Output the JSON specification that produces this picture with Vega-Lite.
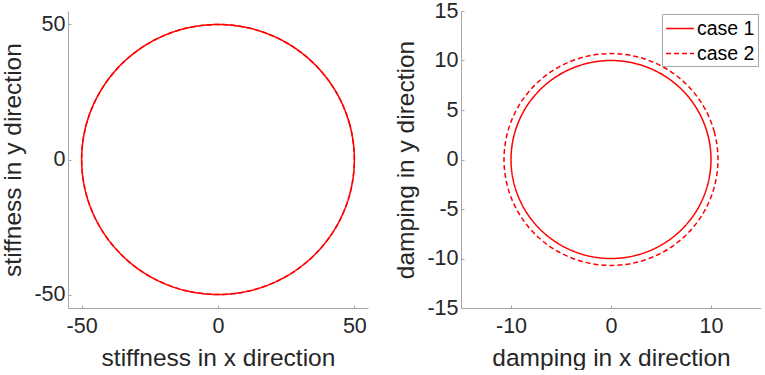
{
  "$schema": "https://vega.github.io/schema/vega-lite/v6.json",
  "background": "white",
  "padding": {"left": 0, "top": 0, "right": 0, "bottom": 0},
  "config": {
    "font": "Liberation Sans",
    "view": {"stroke": null},
    "axis": {
      "grid": false,
      "domainColor": "#a6a6a6",
      "domainWidth": 1,
      "tickColor": "#a6a6a6",
      "tickSize": -3,
      "labelFont": "Liberation Sans",
      "labelFontSize": 21.5,
      "labelColor": "#262626",
      "labelExpr": "datum.value < 0 ? '-' + abs(datum.value) : '' + datum.value",
      "titleFont": "Liberation Sans",
      "titleFontSize": 24.5,
      "titleFontWeight": "normal",
      "titleColor": "#262626"
    },
    "axisX": {"labelPadding": 10.5, "titlePadding": 9.5},
    "axisY": {"labelPadding": 6, "titlePadding": 8},
    "legend": {
      "labelFont": "Liberation Sans",
      "labelFontSize": 19.5,
      "labelColor": "#000000"
    }
  },
  "datasets": {
    "stiff": [
      {"case": "case 1", "i": 0, "x": 50, "y": 0},
      {"case": "case 1", "i": 1, "x": 48.296, "y": 12.941},
      {"case": "case 1", "i": 2, "x": 43.301, "y": 25},
      {"case": "case 1", "i": 3, "x": 35.355, "y": 35.355},
      {"case": "case 1", "i": 4, "x": 25, "y": 43.301},
      {"case": "case 1", "i": 5, "x": 12.941, "y": 48.296},
      {"case": "case 1", "i": 6, "x": 0, "y": 50},
      {"case": "case 1", "i": 7, "x": -12.941, "y": 48.296},
      {"case": "case 1", "i": 8, "x": -25, "y": 43.301},
      {"case": "case 1", "i": 9, "x": -35.355, "y": 35.355},
      {"case": "case 1", "i": 10, "x": -43.301, "y": 25},
      {"case": "case 1", "i": 11, "x": -48.296, "y": 12.941},
      {"case": "case 1", "i": 12, "x": -50, "y": 0},
      {"case": "case 1", "i": 13, "x": -48.296, "y": -12.941},
      {"case": "case 1", "i": 14, "x": -43.301, "y": -25},
      {"case": "case 1", "i": 15, "x": -35.355, "y": -35.355},
      {"case": "case 1", "i": 16, "x": -25, "y": -43.301},
      {"case": "case 1", "i": 17, "x": -12.941, "y": -48.296},
      {"case": "case 1", "i": 18, "x": 0, "y": -50},
      {"case": "case 1", "i": 19, "x": 12.941, "y": -48.296},
      {"case": "case 1", "i": 20, "x": 25, "y": -43.301},
      {"case": "case 1", "i": 21, "x": 35.355, "y": -35.355},
      {"case": "case 1", "i": 22, "x": 43.301, "y": -25},
      {"case": "case 1", "i": 23, "x": 48.296, "y": -12.941},
      {"case": "case 2", "i": 0, "x": 50, "y": 0},
      {"case": "case 2", "i": 1, "x": 48.296, "y": 12.941},
      {"case": "case 2", "i": 2, "x": 43.301, "y": 25},
      {"case": "case 2", "i": 3, "x": 35.355, "y": 35.355},
      {"case": "case 2", "i": 4, "x": 25, "y": 43.301},
      {"case": "case 2", "i": 5, "x": 12.941, "y": 48.296},
      {"case": "case 2", "i": 6, "x": 0, "y": 50},
      {"case": "case 2", "i": 7, "x": -12.941, "y": 48.296},
      {"case": "case 2", "i": 8, "x": -25, "y": 43.301},
      {"case": "case 2", "i": 9, "x": -35.355, "y": 35.355},
      {"case": "case 2", "i": 10, "x": -43.301, "y": 25},
      {"case": "case 2", "i": 11, "x": -48.296, "y": 12.941},
      {"case": "case 2", "i": 12, "x": -50, "y": 0},
      {"case": "case 2", "i": 13, "x": -48.296, "y": -12.941},
      {"case": "case 2", "i": 14, "x": -43.301, "y": -25},
      {"case": "case 2", "i": 15, "x": -35.355, "y": -35.355},
      {"case": "case 2", "i": 16, "x": -25, "y": -43.301},
      {"case": "case 2", "i": 17, "x": -12.941, "y": -48.296},
      {"case": "case 2", "i": 18, "x": 0, "y": -50},
      {"case": "case 2", "i": 19, "x": 12.941, "y": -48.296},
      {"case": "case 2", "i": 20, "x": 25, "y": -43.301},
      {"case": "case 2", "i": 21, "x": 35.355, "y": -35.355},
      {"case": "case 2", "i": 22, "x": 43.301, "y": -25},
      {"case": "case 2", "i": 23, "x": 48.296, "y": -12.941}
    ],
    "damp": [
      {"case": "case 1", "i": 0, "x": 10, "y": 0},
      {"case": "case 1", "i": 1, "x": 9.659, "y": 2.588},
      {"case": "case 1", "i": 2, "x": 8.66, "y": 5},
      {"case": "case 1", "i": 3, "x": 7.071, "y": 7.071},
      {"case": "case 1", "i": 4, "x": 5, "y": 8.66},
      {"case": "case 1", "i": 5, "x": 2.588, "y": 9.659},
      {"case": "case 1", "i": 6, "x": 0, "y": 10},
      {"case": "case 1", "i": 7, "x": -2.588, "y": 9.659},
      {"case": "case 1", "i": 8, "x": -5, "y": 8.66},
      {"case": "case 1", "i": 9, "x": -7.071, "y": 7.071},
      {"case": "case 1", "i": 10, "x": -8.66, "y": 5},
      {"case": "case 1", "i": 11, "x": -9.659, "y": 2.588},
      {"case": "case 1", "i": 12, "x": -10, "y": 0},
      {"case": "case 1", "i": 13, "x": -9.659, "y": -2.588},
      {"case": "case 1", "i": 14, "x": -8.66, "y": -5},
      {"case": "case 1", "i": 15, "x": -7.071, "y": -7.071},
      {"case": "case 1", "i": 16, "x": -5, "y": -8.66},
      {"case": "case 1", "i": 17, "x": -2.588, "y": -9.659},
      {"case": "case 1", "i": 18, "x": 0, "y": -10},
      {"case": "case 1", "i": 19, "x": 2.588, "y": -9.659},
      {"case": "case 1", "i": 20, "x": 5, "y": -8.66},
      {"case": "case 1", "i": 21, "x": 7.071, "y": -7.071},
      {"case": "case 1", "i": 22, "x": 8.66, "y": -5},
      {"case": "case 1", "i": 23, "x": 9.659, "y": -2.588},
      {"case": "case 2", "i": 0, "x": 10.7, "y": 0},
      {"case": "case 2", "i": 1, "x": 10.335, "y": 2.769},
      {"case": "case 2", "i": 2, "x": 9.267, "y": 5.35},
      {"case": "case 2", "i": 3, "x": 7.566, "y": 7.566},
      {"case": "case 2", "i": 4, "x": 5.35, "y": 9.267},
      {"case": "case 2", "i": 5, "x": 2.769, "y": 10.335},
      {"case": "case 2", "i": 6, "x": 0, "y": 10.7},
      {"case": "case 2", "i": 7, "x": -2.769, "y": 10.335},
      {"case": "case 2", "i": 8, "x": -5.35, "y": 9.267},
      {"case": "case 2", "i": 9, "x": -7.566, "y": 7.566},
      {"case": "case 2", "i": 10, "x": -9.267, "y": 5.35},
      {"case": "case 2", "i": 11, "x": -10.335, "y": 2.769},
      {"case": "case 2", "i": 12, "x": -10.7, "y": 0},
      {"case": "case 2", "i": 13, "x": -10.335, "y": -2.769},
      {"case": "case 2", "i": 14, "x": -9.267, "y": -5.35},
      {"case": "case 2", "i": 15, "x": -7.566, "y": -7.566},
      {"case": "case 2", "i": 16, "x": -5.35, "y": -9.267},
      {"case": "case 2", "i": 17, "x": -2.769, "y": -10.335},
      {"case": "case 2", "i": 18, "x": 0, "y": -10.7},
      {"case": "case 2", "i": 19, "x": 2.769, "y": -10.335},
      {"case": "case 2", "i": 20, "x": 5.35, "y": -9.267},
      {"case": "case 2", "i": 21, "x": 7.566, "y": -7.566},
      {"case": "case 2", "i": 22, "x": 9.267, "y": -5.35},
      {"case": "case 2", "i": 23, "x": 10.335, "y": -2.769}
    ]
  },
  "spacing": 25,
  "hconcat": [
    {
      "width": 300,
      "height": 297,
      "data": {"name": "stiff"},
      "mark": {"type": "line", "interpolate": "cardinal-closed", "strokeWidth": 1.5},
      "encoding": {
        "x": {"field": "x", "type": "quantitative", "scale": {"domain": [-55, 55], "nice": false, "zero": false}, "axis": {"values": [-50, 0, 50], "title": "stiffness in x direction"}},
        "y": {"field": "y", "type": "quantitative", "scale": {"domain": [-55, 55], "nice": false, "zero": false}, "axis": {"values": [-50, 0, 50], "title": "stiffness in y direction"}},
        "order": {"field": "i", "type": "quantitative"},
        "color": {"field": "case", "type": "nominal", "scale": {"range": ["#ff0000", "#ff0000"]}, "legend": null},
        "strokeDash": {"field": "case", "type": "nominal", "scale": {"range": [[1, 0], [5, 3]]}, "legend": null}
      }
    },
    {
      "width": 300,
      "height": 297,
      "data": {"name": "damp"},
      "mark": {"type": "line", "interpolate": "cardinal-closed", "strokeWidth": 1.5},
      "encoding": {
        "x": {"field": "x", "type": "quantitative", "scale": {"domain": [-15, 15], "nice": false, "zero": false}, "axis": {"values": [-10, 0, 10], "title": "damping in x direction"}},
        "y": {"field": "y", "type": "quantitative", "scale": {"domain": [-15, 15], "nice": false, "zero": false}, "axis": {"values": [-15, -10, -5, 0, 5, 10, 15], "title": "damping in y direction"}},
        "order": {"field": "i", "type": "quantitative"},
        "color": {"field": "case", "type": "nominal", "scale": {"range": ["#ff0000", "#ff0000"]}, "legend": {"title": null, "orient": "top-right", "offset": 3, "padding": 3, "strokeColor": "#a6a6a6", "fillColor": "white", "symbolType": "M-1.333,0H1.333", "symbolSize": 441, "symbolStrokeWidth": 1.5, "symbolOffset": 3.5, "labelOffset": 5.5, "rowPadding": 4}},
        "strokeDash": {"field": "case", "type": "nominal", "scale": {"range": [[1, 0], [5, 3]]}, "legend": {"title": null, "orient": "top-right", "offset": 3, "padding": 3, "strokeColor": "#a6a6a6", "fillColor": "white", "symbolType": "M-1.333,0H1.333", "symbolSize": 441, "symbolStrokeWidth": 1.5, "symbolOffset": 3.5, "labelOffset": 5.5, "rowPadding": 4}}
      }
    }
  ],
  "resolve": {"legend": {"color": "independent", "strokeDash": "independent"}}
}
